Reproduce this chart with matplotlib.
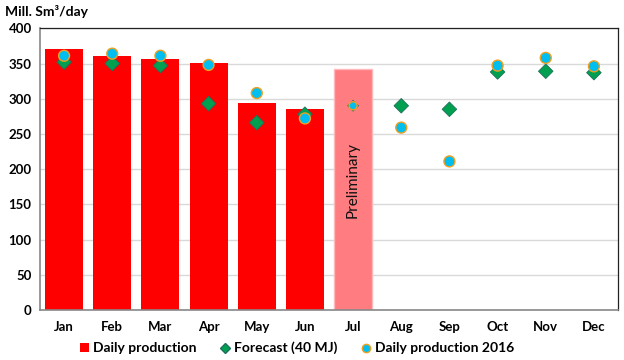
import matplotlib
matplotlib.use("Agg")
import matplotlib.pyplot as plt
from matplotlib.lines import Line2D
from matplotlib.patches import Patch

months = ["Jan", "Feb", "Mar", "Apr", "May", "Jun", "Jul", "Aug", "Sep", "Oct", "Nov", "Dec"]
daily_production = [371, 361, 357, 351, 294, 286]
preliminary_month = "Jul"
preliminary_value = 342
forecast_40mj = [352, 350, 347, 293, 266, 278, 290, 290, 285, 338, 339, 337]
daily_2016 = [361, 364, 361, 348, 308, 272, 290, 259, 211, 347, 358, 346]
yticks = [0, 50, 100, 150, 200, 250, 300, 350, 400]

plt.rcParams['font.family'] = ['Lato', 'DejaVu Sans']

fig = plt.figure(figsize=(6.24, 3.6), dpi=100)
ax = fig.add_axes([40/624, 1-310/360, (618-40)/624, (310-28.3)/360])

x = list(range(len(months)))
ax.bar(x[:len(daily_production)], daily_production, width=0.79, color="#FF0000", zorder=2)
pi = months.index(preliminary_month)
ax.bar([pi], [preliminary_value], width=0.79, color="#FF7C80", edgecolor="#FFB8BC", linewidth=1.0, zorder=2)
ax.text(pi, 185, "Preliminary", rotation=90, ha="center", va="center", fontsize=11, color="#111111", zorder=3)

d_sizes = [55] * len(months)
c_sizes = [62] * len(months)
d_sizes[pi] = 30
c_sizes[pi] = 34
ax.scatter(x, forecast_40mj, marker="D", s=d_sizes, color="#00A050", edgecolor="#1F6F5F", linewidth=0.6, zorder=4)
ax.scatter(x, daily_2016, marker="o", s=c_sizes, color="#00BFF0", edgecolor="#F0A020", linewidth=1.0, zorder=5)

ax.set_xlim(-0.5, 11.5)
ax.set_ylim(0, 400)
ax.set_yticks(yticks)
ax.set_xticks(x)
ax.set_xticklabels(months)
ax.grid(axis="y", color="#D9D9D9", linewidth=1.0, zorder=0)
ax.set_axisbelow(True)
for lab in ax.get_xticklabels() + ax.get_yticklabels():
    lab.set_fontweight("bold")
    lab.set_fontsize(9.5)
ax.tick_params(axis="both", length=0, pad=8)
ax.tick_params(axis="y", pad=6)
for s in ["top", "right"]:
    ax.spines[s].set_color("#222222")
    ax.spines[s].set_linewidth(0.9)
for s in ["left", "bottom"]:
    ax.spines[s].set_color("#888888")
    ax.spines[s].set_linewidth(1.2)

fig.text(5/624, 1-12/360, "Mill. Sm³/day", fontsize=10, fontweight="bold", ha="left", va="center")

handles = [
    Patch(facecolor="#FF0000", label="Daily production"),
    Line2D([], [], marker="D", linestyle="none", markersize=5.5, color="#00A050", markeredgecolor="#1F6F5F", label="Forecast (40 MJ)"),
    Line2D([], [], marker="o", linestyle="none", markersize=6, color="#00BFF0", markeredgecolor="#F0A020", label="Daily production 2016"),
]
fig.legend(handles=handles, loc="center", bbox_to_anchor=(297/624, 1-348/360), ncol=3, frameon=False,
           prop={"weight": "bold", "size": 10}, handlelength=0.6, handletextpad=0.3, columnspacing=1.8,
           handleheight=0.6)

fig.savefig("out.png", dpi=100)
